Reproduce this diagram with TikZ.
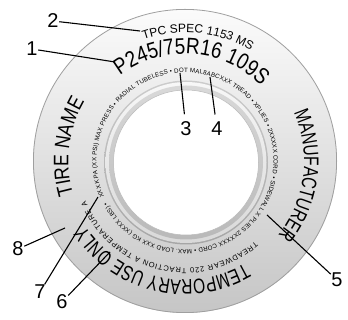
\documentclass[tikz,border=0pt]{standalone}
\usepackage{fontspec}
\setmainfont{Liberation Sans}
\newfontfamily\condfont[FakeStretch=0.84]{Liberation Sans}
\newfontfamily\narrowfont[FakeStretch=0.74]{Liberation Sans}
\usetikzlibrary{decorations.text,positioning}

\begin{document}
\begin{tikzpicture}[x=1pt, y=1pt,
    lbl/.style={inner sep=0.5pt, font=\fontsize{20}{20}\selectfont},
    lead/.style={line width=1.1pt}]
    \useasboundingbox (0,0) rectangle (348,320);
    \coordinate (c) at (185,159);
    \coordinate (h) at (186,157.5);

    % Sidewall
    \shade[top color=gray!3, middle color=gray!20, bottom color=gray!45] (c) circle (152);
    \draw[gray!75, line width=0.8pt] (c) circle (151.6);

    % Rim
    \shade[top color=gray!40, bottom color=gray!70] (h) circle (82);
    \shade[top color=gray!6, bottom color=gray!30] (h) circle (80.5);
    \shade[top color=gray!30, bottom color=gray!55] (h) circle (77);
    \fill[white] (h) circle (72.5);
    \draw[gray!55, line width=0.5pt] (h) circle (72.5);

    % Sidewall text
    \path[shift={(c)}, decorate, decoration={text along path, text align=center,
        text={|\fontsize{12}{12}\selectfont|TPC SPEC 1153 MS}}]
        (130:128.5) arc[start angle=130, end angle=38, radius=128.5];
    \path[shift={(c)}, decorate, decoration={text along path, text align=center,
        text={|\condfont\fontsize{22.5}{22.5}\selectfont|P245/75R16 109S}}]
        (146:107) arc[start angle=146, end angle=26, radius=107];
    \path[shift={(c)}, decorate, decoration={text along path, text align=center,
        text={|\condfont\fontsize{21}{21}\selectfont|TIRE NAME}}]
        (213:116.5) arc[start angle=213, end angle=133, radius=116.5];
    \path[shift={(c)}, decorate, decoration={text along path, text align=center,
        text={|\narrowfont\fontsize{21}{21}\selectfont|MANUFACTURER}}]
        (45:119) arc[start angle=45, end angle=-59.5, radius=119];
    \path[shift={(c)}, decorate, decoration={text along path, text align=center,
        text={|\narrowfont\fontsize{21}{21}\selectfont|TEMPORARY USE ONLY}}]
        (-28:119) arc[start angle=-28, end angle=-179, radius=119];
    \path[shift={(c)}, decorate, decoration={text along path, text align={fit to path},
        text={|\fontsize{7.5}{7.5}\selectfont|TREADWEAR 220 TRACTION A TEMPERATURE A}}]
        (-49:107) arc[start angle=-49, end angle=-158, radius=107];
    \path[shift={(c)}, decorate, decoration={text along path, text align={fit to path},
        text={|\fontsize{6.2}{6.2}\selectfont|XXX KPA (XX PSI) MAX PRESS • RADIAL TUBELESS • DOT MAL8ABCXXX TREAD • XPLIES • 2XXXXX CORD • SIDEWALL X PLIES 2XXXXX CORD • MAX. LOAD XXX KG (XXXX LBS) •}}]
        (204:88.5) arc[start angle=204, end angle=-152, radius=88.5];

    % Callouts
    \node[lbl] (l1) at (32,271) {1};
    \node[lbl] (l2) at (53,299) {2};
    \node[lbl] (l3) at (186,191) {3};
    \node[lbl] (l4) at (217,191) {4};
    \node[lbl] (l5) at (337,40) {5};
    \node[lbl] (l6) at (62,18) {6};
    \node[lbl] (l7) at (40,28) {7};
    \node[lbl] (l8) at (18,71) {8};

    \coordinate (t1) at (115,258);
    \coordinate (t2) at (140,289);
    \coordinate (t3) at (180,247);
    \coordinate (t4) at (210,243);
    \coordinate (t5) at (267,105);
    \coordinate (t6) at (110,68);
    \coordinate (t7) at (98,123);
    \coordinate (t8) at (65,92);

    \draw[lead] (l1) -- (t1);
    \draw[lead] (l2) -- (t2);
    \draw[lead, shorten <=7pt] (l3) -- (t3);
    \draw[lead, shorten <=7pt] (l4) -- (t4);
    \draw[lead] (l5) -- (t5);
    \draw[lead] (l6) -- (t6);
    \draw[lead] (l7) -- (t7);
    \draw[lead] (l8) -- (t8);
\end{tikzpicture}
\end{document}
